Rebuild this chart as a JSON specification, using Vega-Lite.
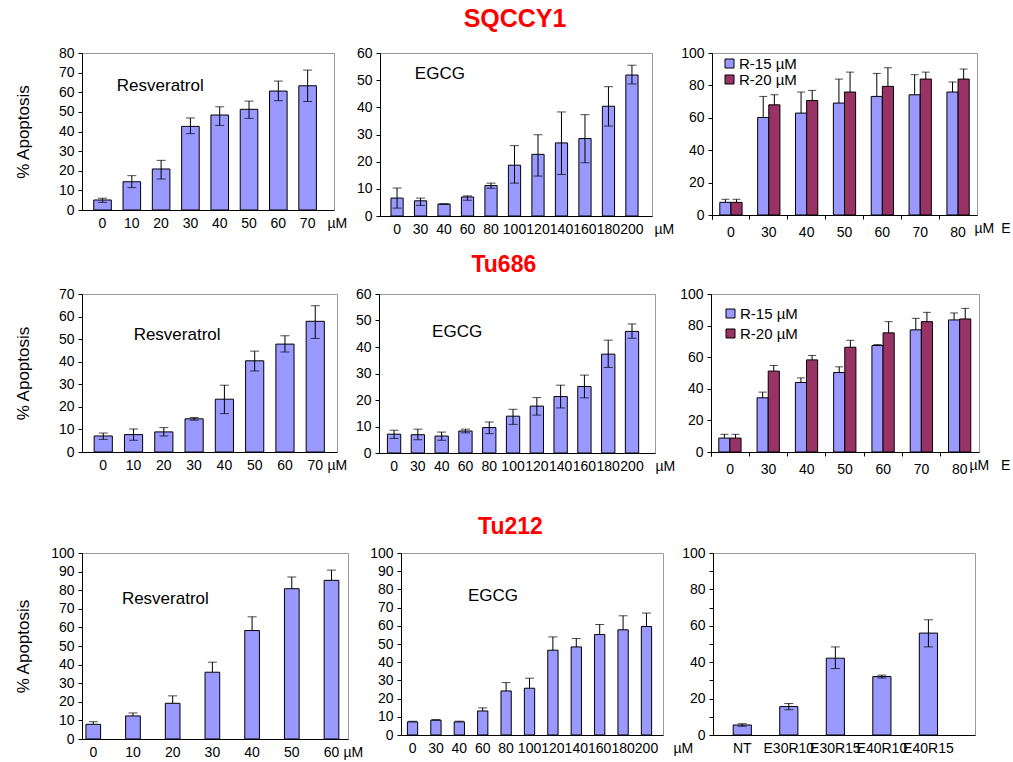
{
  "$schema": "https://vega.github.io/schema/vega-lite/v6.json",
  "background": "white",
  "padding": {"left": 13, "top": 6, "right": 0, "bottom": 0},
  "config": {
    "font": "Liberation Sans",
    "view": {"stroke": "#999999", "strokeWidth": 1},
    "axis": {"labelFont": "Liberation Sans", "titleFont": "Liberation Sans", "labelFontSize": 14, "labelColor": "#000000", "titleColor": "#000000", "domainColor": "#000000", "tickColor": "#000000", "titleFontWeight": "normal", "grid": false},
    "axisY": {"tickSize": 4, "labelPadding": 4, "labelOverlap": false, "titleFontSize": 17, "titleX": -50, "titleBaseline": "bottom"},
    "axisX": {"ticks": false, "labelPadding": 6, "labelAngle": 0, "labelOverlap": false, "titleFontSize": 14},
    "text": {"font": "Liberation Sans", "fontSize": 17, "color": "#000000"},
    "title": {"font": "Liberation Sans"}
  },
  "datasets": {
    "a1": [
      {"dose": "0", "v": 5.1, "lo": 3.9, "hi": 6.0},
      {"dose": "10", "v": 14.4, "lo": 11.4, "hi": 17.5},
      {"dose": "20", "v": 20.9, "lo": 15.8, "hi": 25.3},
      {"dose": "30", "v": 42.6, "lo": 38.9, "hi": 46.9},
      {"dose": "40", "v": 48.4, "lo": 43.1, "hi": 52.6},
      {"dose": "50", "v": 51.3, "lo": 46.7, "hi": 55.5},
      {"dose": "60", "v": 60.6, "lo": 55.7, "hi": 65.7},
      {"dose": "70", "v": 63.3, "lo": 55.3, "hi": 71.3}
    ],
    "b1": [
      {"dose": "0", "v": 6.6, "lo": 2.9, "hi": 10.3},
      {"dose": "30", "v": 5.6, "lo": 3.9, "hi": 6.6},
      {"dose": "40", "v": 4.4, "lo": 4.4, "hi": 4.4},
      {"dose": "60", "v": 7.0, "lo": 5.8, "hi": 7.4},
      {"dose": "80", "v": 11.2, "lo": 10.2, "hi": 12.1},
      {"dose": "100", "v": 18.7, "lo": 12.1, "hi": 25.9},
      {"dose": "120", "v": 22.7, "lo": 14.7, "hi": 29.9},
      {"dose": "140", "v": 26.9, "lo": 15.3, "hi": 38.3},
      {"dose": "160", "v": 28.5, "lo": 19.6, "hi": 37.3},
      {"dose": "180", "v": 40.4, "lo": 33.1, "hi": 47.6},
      {"dose": "200", "v": 51.9, "lo": 48.6, "hi": 55.5}
    ],
    "c1": [
      {"dose": "0", "s": "R-15 µM", "v": 7.8, "hi": 9.7},
      {"dose": "0", "s": "R-20 µM", "v": 7.8, "hi": 9.7},
      {"dose": "30", "s": "R-15 µM", "v": 60.2, "hi": 73.2},
      {"dose": "30", "s": "R-20 µM", "v": 68.0, "hi": 74.2},
      {"dose": "40", "s": "R-15 µM", "v": 62.9, "hi": 75.9},
      {"dose": "40", "s": "R-20 µM", "v": 70.7, "hi": 76.9},
      {"dose": "50", "s": "R-15 µM", "v": 69.1, "hi": 83.9},
      {"dose": "50", "s": "R-20 µM", "v": 75.9, "hi": 88.2},
      {"dose": "60", "s": "R-15 µM", "v": 73.2, "hi": 87.4},
      {"dose": "60", "s": "R-20 µM", "v": 79.4, "hi": 90.9},
      {"dose": "70", "s": "R-15 µM", "v": 74.2, "hi": 86.6},
      {"dose": "70", "s": "R-20 µM", "v": 83.9, "hi": 88.2},
      {"dose": "80", "s": "R-15 µM", "v": 75.9, "hi": 82.1},
      {"dose": "80", "s": "R-20 µM", "v": 83.9, "hi": 90.1}
    ],
    "a2": [
      {"dose": "0", "v": 7.1, "lo": 5.6, "hi": 8.4},
      {"dose": "10", "v": 7.7, "lo": 5.2, "hi": 10.2},
      {"dose": "20", "v": 8.9, "lo": 7.1, "hi": 10.8},
      {"dose": "30", "v": 14.7, "lo": 14.1, "hi": 15.3},
      {"dose": "40", "v": 23.4, "lo": 17.0, "hi": 29.6},
      {"dose": "50", "v": 40.4, "lo": 35.9, "hi": 44.7},
      {"dose": "60", "v": 47.8, "lo": 44.3, "hi": 51.5},
      {"dose": "70", "v": 57.9, "lo": 50.3, "hi": 64.8}
    ],
    "b2": [
      {"dose": "0", "v": 7.1, "lo": 5.5, "hi": 8.6},
      {"dose": "30", "v": 6.9, "lo": 5.0, "hi": 9.0},
      {"dose": "40", "v": 6.4, "lo": 4.8, "hi": 7.9},
      {"dose": "60", "v": 8.3, "lo": 7.6, "hi": 9.0},
      {"dose": "80", "v": 9.6, "lo": 7.3, "hi": 11.7},
      {"dose": "100", "v": 13.9, "lo": 10.8, "hi": 16.5},
      {"dose": "120", "v": 17.7, "lo": 14.3, "hi": 20.9},
      {"dose": "140", "v": 21.3, "lo": 17.0, "hi": 25.6},
      {"dose": "160", "v": 25.1, "lo": 20.8, "hi": 29.4},
      {"dose": "180", "v": 37.3, "lo": 32.3, "hi": 42.6},
      {"dose": "200", "v": 45.9, "lo": 43.3, "hi": 48.7}
    ],
    "c2": [
      {"dose": "0", "s": "R-15 µM", "v": 8.8, "hi": 11.2},
      {"dose": "0", "s": "R-20 µM", "v": 8.8, "hi": 11.2},
      {"dose": "30", "s": "R-15 µM", "v": 34.3, "hi": 37.9},
      {"dose": "30", "s": "R-20 µM", "v": 51.2, "hi": 54.7},
      {"dose": "40", "s": "R-15 µM", "v": 44.0, "hi": 46.9},
      {"dose": "40", "s": "R-20 µM", "v": 58.3, "hi": 61.1},
      {"dose": "50", "s": "R-15 µM", "v": 50.3, "hi": 53.9},
      {"dose": "50", "s": "R-20 µM", "v": 66.3, "hi": 70.7},
      {"dose": "60", "s": "R-15 µM", "v": 67.4, "hi": 68.0},
      {"dose": "60", "s": "R-20 µM", "v": 75.4, "hi": 82.5},
      {"dose": "70", "s": "R-15 µM", "v": 77.3, "hi": 84.6},
      {"dose": "70", "s": "R-20 µM", "v": 82.5, "hi": 88.4},
      {"dose": "80", "s": "R-15 µM", "v": 83.6, "hi": 88.0},
      {"dose": "80", "s": "R-20 µM", "v": 84.2, "hi": 90.9}
    ],
    "a3": [
      {"dose": "0", "v": 7.9, "hi": 9.3},
      {"dose": "10", "v": 12.4, "hi": 14.0},
      {"dose": "20", "v": 19.2, "hi": 23.2},
      {"dose": "30", "v": 35.9, "hi": 41.3},
      {"dose": "40", "v": 58.3, "hi": 65.7},
      {"dose": "50", "v": 80.8, "hi": 87.1},
      {"dose": "60", "v": 85.3, "hi": 90.8}
    ],
    "b3": [
      {"dose": "0", "v": 7.2, "hi": 7.6},
      {"dose": "30", "v": 8.1, "hi": 8.5},
      {"dose": "40", "v": 7.2, "hi": 7.6},
      {"dose": "60", "v": 13.2, "hi": 14.9},
      {"dose": "80", "v": 24.2, "hi": 28.8},
      {"dose": "100", "v": 25.7, "hi": 31.2},
      {"dose": "120", "v": 46.6, "hi": 53.9},
      {"dose": "140", "v": 48.4, "hi": 53.0},
      {"dose": "160", "v": 55.2, "hi": 60.7},
      {"dose": "180", "v": 57.8, "hi": 65.5},
      {"dose": "200", "v": 59.6, "hi": 67.0}
    ],
    "c3": [
      {"dose": "NT", "v": 5.5, "lo": 4.8, "hi": 6.2},
      {"dose": "E30R10", "v": 15.6, "lo": 13.9, "hi": 17.3},
      {"dose": "E30R15", "v": 42.2, "lo": 36.5, "hi": 48.4},
      {"dose": "E40R10", "v": 32.1, "lo": 31.3, "hi": 32.9},
      {"dose": "E40R15", "v": 56.0, "lo": 48.4, "hi": 63.3}
    ]
  },
  "resolve": {"scale": {"color": "independent"}},
  "spacing": 38,
  "vconcat": [
    {
      "spacing": 13,
      "resolve": {"scale": {"color": "independent"}},
      "vconcat": [
        {
          "title": {"text": "SQCCY1", "fontSize": 25, "fontWeight": "bold", "color": "#ff0000", "anchor": "middle", "offset": 14, "dx": 3},
          "spacing": 7,
          "resolve": {"scale": {"color": "independent"}},
          "hconcat": [
            {
              "width": 252, "height": 157,
              "data": {"name": "a1"},
              "encoding": {
                "x": {"field": "dose", "type": "nominal", "sort": null,
                  "scale": {"domain": ["0", "10", "20", "30", "40", "50", "60", "70"], "paddingInner": 0.4, "paddingOuter": 0.5, "align": 0.4},
                  "axis": {"title": "µM", "titleX": 245, "titleY": 6, "titleAlign": "left", "titleBaseline": "top", "titleAngle": 0}}
              },
              "layer": [
                {"mark": {"type": "bar", "fill": "#9999ff", "stroke": "#000000", "strokeWidth": 1},
                 "encoding": {"y": {"field": "v", "type": "quantitative", "scale": {"domain": [0, 80], "nice": false}, "axis": {"values": [0, 10, 20, 30, 40, 50, 60, 70, 80], "tickCount": 20, "labelOverlap": false, "title": "% Apoptosis"}}}},
                {"mark": {"type": "rule", "color": "#000000"}, "encoding": {"y": {"field": "lo", "type": "quantitative"}, "y2": {"field": "hi"}}},
                {"mark": {"type": "tick", "color": "#000000", "size": 9, "thickness": 1}, "encoding": {"y": {"field": "hi", "type": "quantitative"}}},
                {"mark": {"type": "tick", "color": "#000000", "size": 9, "thickness": 1}, "encoding": {"y": {"field": "lo", "type": "quantitative"}}},
                {"data": {"values": [{"dose": "20", "v": 63, "note": "Resveratrol"}]},
                 "mark": {"type": "text", "baseline": "middle", "align": "center"},
                 "encoding": {"x": {"field": "dose", "type": "nominal", "sort": null, "bandPosition": 0.45}, "y": {"field": "v", "type": "quantitative"}, "text": {"field": "note"}}}
              ]
            },
            {
              "spacing": 60, "bounds": "flush",
              "resolve": {"scale": {"color": "independent"}},
              "hconcat": [
                {
                  "width": 272, "height": 163,
                  "data": {"name": "b1"},
                  "encoding": {
                    "x": {"field": "dose", "type": "nominal", "sort": null,
                      "scale": {"domain": ["0", "30", "40", "60", "80", "100", "120", "140", "160", "180", "200"], "paddingInner": 0.48, "paddingOuter": 0.53, "align": 0.44},
                      "axis": {"title": "µM", "titleX": 274, "titleY": 6, "titleAlign": "left", "titleBaseline": "top", "titleAngle": 0}}
                  },
                  "layer": [
                    {"mark": {"type": "bar", "fill": "#9999ff", "stroke": "#000000", "strokeWidth": 1},
                     "encoding": {"y": {"field": "v", "type": "quantitative", "scale": {"domain": [0, 60], "nice": false}, "axis": {"values": [0, 10, 20, 30, 40, 50, 60], "tickCount": 20, "labelOverlap": false, "title": null}}}},
                    {"mark": {"type": "rule", "color": "#000000"}, "encoding": {"y": {"field": "lo", "type": "quantitative"}, "y2": {"field": "hi"}}},
                    {"mark": {"type": "tick", "color": "#000000", "size": 9, "thickness": 1}, "encoding": {"y": {"field": "hi", "type": "quantitative"}}},
                    {"mark": {"type": "tick", "color": "#000000", "size": 9, "thickness": 1}, "encoding": {"y": {"field": "lo", "type": "quantitative"}}},
                    {"data": {"values": [{"dose": "40", "v": 52.3, "note": "EGCG"}]},
                     "mark": {"type": "text", "baseline": "middle", "align": "center"},
                     "encoding": {"x": {"field": "dose", "type": "nominal", "sort": null, "bandPosition": 0.16}, "y": {"field": "v", "type": "quantitative"}, "text": {"field": "note"}}}
                  ]
                },
                {
                  "width": 265, "height": 162,
                  "data": {"name": "c1"},
                  "encoding": {
                    "x": {"field": "dose", "type": "nominal", "sort": null,
                      "scale": {"domain": ["0", "30", "40", "50", "60", "70", "80"], "paddingInner": 0, "paddingOuter": 0},
                      "axis": {"ticks": true, "tickSize": 4, "bandPosition": 0, "tickExtra": true, "title": "µM\u2002E", "titleX": 262, "titleY": 6, "titleAlign": "left", "titleBaseline": "top", "titleAngle": 0}},
                    "xOffset": {"field": "s", "type": "nominal", "scale": {"paddingOuter": 0.7}}
                  },
                  "layer": [
                    {"mark": {"type": "bar", "stroke": "#000000", "strokeWidth": 1},
                     "encoding": {
                       "y": {"field": "v", "type": "quantitative", "scale": {"domain": [0, 100], "nice": false}, "axis": {"values": [0, 20, 40, 60, 80, 100], "tickCount": 20, "labelOverlap": false, "title": null}},
                       "color": {"field": "s", "type": "nominal", "scale": {"domain": ["R-15 µM", "R-20 µM"], "range": ["#9999ff", "#993366"]},
                         "legend": {"orient": "none", "legendX": 10, "legendY": 3, "title": null, "symbolType": "square", "symbolSize": 81, "symbolStrokeColor": "#000000", "symbolStrokeWidth": 1, "labelFontSize": 15, "labelFont": "Liberation Sans", "labelColor": "#000000", "labelOffset": 2, "rowPadding": -5, "padding": 0}}
                     }},
                    {"mark": {"type": "rule", "color": "#000000"}, "encoding": {"y": {"field": "v", "type": "quantitative"}, "y2": {"field": "hi"}}},
                    {"mark": {"type": "tick", "color": "#000000", "size": 8, "thickness": 1}, "encoding": {"y": {"field": "hi", "type": "quantitative"}}}
                  ]
                }
              ]
            }
          ]
        },
        {
          "title": {"text": "Tu686", "fontSize": 23, "fontWeight": "bold", "color": "#ff0000", "anchor": "middle", "offset": 10, "dx": -8},
          "spacing": 6,
          "resolve": {"scale": {"color": "independent"}},
          "hconcat": [
            {
              "width": 255, "height": 158,
              "data": {"name": "a2"},
              "encoding": {
                "x": {"field": "dose", "type": "nominal", "sort": null,
                  "scale": {"domain": ["0", "10", "20", "30", "40", "50", "60", "70"], "paddingInner": 0.4, "paddingOuter": 0.41, "align": 0.49},
                  "axis": {"title": "µM", "titleX": 245, "titleY": 6, "titleAlign": "left", "titleBaseline": "top", "titleAngle": 0}}
              },
              "layer": [
                {"mark": {"type": "bar", "fill": "#9999ff", "stroke": "#000000", "strokeWidth": 1},
                 "encoding": {"y": {"field": "v", "type": "quantitative", "scale": {"domain": [0, 70], "nice": false}, "axis": {"values": [0, 10, 20, 30, 40, 50, 60, 70], "tickCount": 20, "labelOverlap": false, "title": "% Apoptosis"}}}},
                {"mark": {"type": "rule", "color": "#000000"}, "encoding": {"y": {"field": "lo", "type": "quantitative"}, "y2": {"field": "hi"}}},
                {"mark": {"type": "tick", "color": "#000000", "size": 9, "thickness": 1}, "encoding": {"y": {"field": "hi", "type": "quantitative"}}},
                {"mark": {"type": "tick", "color": "#000000", "size": 9, "thickness": 1}, "encoding": {"y": {"field": "lo", "type": "quantitative"}}},
                {"data": {"values": [{"dose": "20", "v": 51.8, "note": "Resveratrol"}]},
                 "mark": {"type": "text", "baseline": "middle", "align": "center"},
                 "encoding": {"x": {"field": "dose", "type": "nominal", "sort": null, "bandPosition": 1.23}, "y": {"field": "v", "type": "quantitative"}, "text": {"field": "note"}}}
              ]
            },
            {
              "spacing": 56, "bounds": "flush",
              "resolve": {"scale": {"color": "independent"}},
              "hconcat": [
                {
                  "width": 276, "height": 159,
                  "data": {"name": "b2"},
                  "encoding": {
                    "x": {"field": "dose", "type": "nominal", "sort": null,
                      "scale": {"domain": ["0", "30", "40", "60", "80", "100", "120", "140", "160", "180", "200"], "paddingInner": 0.44, "paddingOuter": 0.52, "align": 0.34},
                      "axis": {"title": "µM", "titleX": 276, "titleY": 6, "titleAlign": "left", "titleBaseline": "top", "titleAngle": 0}}
                  },
                  "layer": [
                    {"mark": {"type": "bar", "fill": "#9999ff", "stroke": "#000000", "strokeWidth": 1},
                     "encoding": {"y": {"field": "v", "type": "quantitative", "scale": {"domain": [0, 60], "nice": false}, "axis": {"values": [0, 10, 20, 30, 40, 50, 60], "tickCount": 20, "labelOverlap": false, "title": null}}}},
                    {"mark": {"type": "rule", "color": "#000000"}, "encoding": {"y": {"field": "lo", "type": "quantitative"}, "y2": {"field": "hi"}}},
                    {"mark": {"type": "tick", "color": "#000000", "size": 9, "thickness": 1}, "encoding": {"y": {"field": "hi", "type": "quantitative"}}},
                    {"mark": {"type": "tick", "color": "#000000", "size": 9, "thickness": 1}, "encoding": {"y": {"field": "lo", "type": "quantitative"}}},
                    {"data": {"values": [{"dose": "40", "v": 45.7, "note": "EGCG"}]},
                     "mark": {"type": "text", "baseline": "middle", "align": "center"},
                     "encoding": {"x": {"field": "dose", "type": "nominal", "sort": null, "bandPosition": 1.66}, "y": {"field": "v", "type": "quantitative"}, "text": {"field": "note"}}}
                  ]
                },
                {
                  "width": 268, "height": 158,
                  "data": {"name": "c2"},
                  "encoding": {
                    "x": {"field": "dose", "type": "nominal", "sort": null,
                      "scale": {"domain": ["0", "30", "40", "50", "60", "70", "80"], "paddingInner": 0, "paddingOuter": 0},
                      "axis": {"ticks": true, "tickSize": 4, "bandPosition": 0, "tickExtra": true, "title": "µM\u00a0\u00a0\u00a0E", "titleX": 258, "titleY": 6, "titleAlign": "left", "titleBaseline": "top", "titleAngle": 0}},
                    "xOffset": {"field": "s", "type": "nominal", "scale": {"paddingOuter": 0.64}}
                  },
                  "layer": [
                    {"mark": {"type": "bar", "stroke": "#000000", "strokeWidth": 1},
                     "encoding": {
                       "y": {"field": "v", "type": "quantitative", "scale": {"domain": [0, 100], "nice": false}, "axis": {"values": [0, 20, 40, 60, 80, 100], "tickCount": 20, "labelOverlap": false, "title": null}},
                       "color": {"field": "s", "type": "nominal", "scale": {"domain": ["R-15 µM", "R-20 µM"], "range": ["#9999ff", "#993366"]},
                         "legend": {"orient": "none", "legendX": 12, "legendY": 12, "title": null, "symbolType": "square", "symbolSize": 81, "symbolStrokeColor": "#000000", "symbolStrokeWidth": 1, "labelFontSize": 15, "labelFont": "Liberation Sans", "labelColor": "#000000", "labelOffset": 2, "rowPadding": 4, "padding": 0}}
                     }},
                    {"mark": {"type": "rule", "color": "#000000"}, "encoding": {"y": {"field": "v", "type": "quantitative"}, "y2": {"field": "hi"}}},
                    {"mark": {"type": "tick", "color": "#000000", "size": 8, "thickness": 1}, "encoding": {"y": {"field": "hi", "type": "quantitative"}}}
                  ]
                }
              ]
            }
          ]
        }
      ]
    },
    {
      "title": {"text": "Tu212", "fontSize": 23, "fontWeight": "bold", "color": "#ff0000", "anchor": "middle", "offset": 7, "dx": 16},
      "spacing": 5,
      "hconcat": [
        {
          "width": 266, "height": 186,
          "data": {"name": "a3"},
          "encoding": {
            "x": {"field": "dose", "type": "nominal", "sort": null,
              "scale": {"domain": ["0", "10", "20", "30", "40", "50", "60"], "paddingInner": 0.63, "paddingOuter": 0.165, "align": 0.3},
              "axis": {"title": "µM", "titleX": 261, "titleY": 6, "titleAlign": "left", "titleBaseline": "top", "titleAngle": 0}}
          },
          "layer": [
            {"mark": {"type": "bar", "fill": "#9999ff", "stroke": "#000000", "strokeWidth": 1},
             "encoding": {"y": {"field": "v", "type": "quantitative", "scale": {"domain": [0, 100], "nice": false}, "axis": {"values": [0, 10, 20, 30, 40, 50, 60, 70, 80, 90, 100], "tickCount": 20, "labelOverlap": false, "title": "% Apoptosis"}}}},
            {"mark": {"type": "rule", "color": "#000000"}, "encoding": {"y": {"field": "v", "type": "quantitative"}, "y2": {"field": "hi"}}},
            {"mark": {"type": "tick", "color": "#000000", "size": 9, "thickness": 1}, "encoding": {"y": {"field": "hi", "type": "quantitative"}}},
            {"data": {"values": [{"dose": "20", "v": 75.3, "note": "Resveratrol"}]},
             "mark": {"type": "text", "baseline": "middle", "align": "center"},
             "encoding": {"x": {"field": "dose", "type": "nominal", "sort": null, "bandPosition": 0}, "y": {"field": "v", "type": "quantitative"}, "text": {"field": "note"}}}
          ]
        },
        {
          "spacing": 50, "bounds": "flush",
          "hconcat": [
            {
              "width": 262, "height": 182,
              "data": {"name": "b3"},
              "encoding": {
                "x": {"field": "dose", "type": "nominal", "sort": null,
                  "scale": {"domain": ["0", "30", "40", "60", "80", "100", "120", "140", "160", "180", "200"], "paddingInner": 0.56, "paddingOuter": 0.38, "align": 0.36},
                  "axis": {"title": "µM", "titleX": 272, "titleY": 6, "titleAlign": "left", "titleBaseline": "top", "titleAngle": 0}}
              },
              "layer": [
                {"mark": {"type": "bar", "fill": "#9999ff", "stroke": "#000000", "strokeWidth": 1},
                 "encoding": {"y": {"field": "v", "type": "quantitative", "scale": {"domain": [0, 100], "nice": false}, "axis": {"values": [0, 10, 20, 30, 40, 50, 60, 70, 80, 90, 100], "tickCount": 20, "labelOverlap": false, "title": null}}}},
                {"mark": {"type": "rule", "color": "#000000"}, "encoding": {"y": {"field": "v", "type": "quantitative"}, "y2": {"field": "hi"}}},
                {"mark": {"type": "tick", "color": "#000000", "size": 9, "thickness": 1}, "encoding": {"y": {"field": "hi", "type": "quantitative"}}},
                {"data": {"values": [{"dose": "60", "v": 76.4, "note": "EGCG"}]},
                 "mark": {"type": "text", "baseline": "middle", "align": "center"},
                 "encoding": {"x": {"field": "dose", "type": "nominal", "sort": null, "bandPosition": 1.5}, "y": {"field": "v", "type": "quantitative"}, "text": {"field": "note"}}}
              ]
            },
            {
              "width": 262, "height": 182,
              "data": {"name": "c3"},
              "encoding": {
                "x": {"field": "dose", "type": "nominal", "sort": null,
                  "scale": {"domain": ["NT", "E30R10", "E30R15", "E40R10", "E40R15"], "paddingInner": 0.61, "paddingOuter": 0.62, "align": 0.35},
                  "axis": {"title": null}}
              },
              "layer": [
                {"mark": {"type": "bar", "fill": "#9999ff", "stroke": "#000000", "strokeWidth": 1},
                 "encoding": {"y": {"field": "v", "type": "quantitative", "scale": {"domain": [0, 100], "nice": false}, "axis": {"values": [0, 10, 20, 30, 40, 50, 60, 70, 80, 90, 100], "tickCount": 20, "labelOverlap": false, "labelExpr": "datum.value % 20 === 0 ? datum.label : ''", "title": null}}}},
                {"mark": {"type": "rule", "color": "#000000"}, "encoding": {"y": {"field": "lo", "type": "quantitative"}, "y2": {"field": "hi"}}},
                {"mark": {"type": "tick", "color": "#000000", "size": 9, "thickness": 1}, "encoding": {"y": {"field": "hi", "type": "quantitative"}}},
                {"mark": {"type": "tick", "color": "#000000", "size": 9, "thickness": 1}, "encoding": {"y": {"field": "lo", "type": "quantitative"}}}
              ]
            }
          ]
        }
      ]
    }
  ]
}
